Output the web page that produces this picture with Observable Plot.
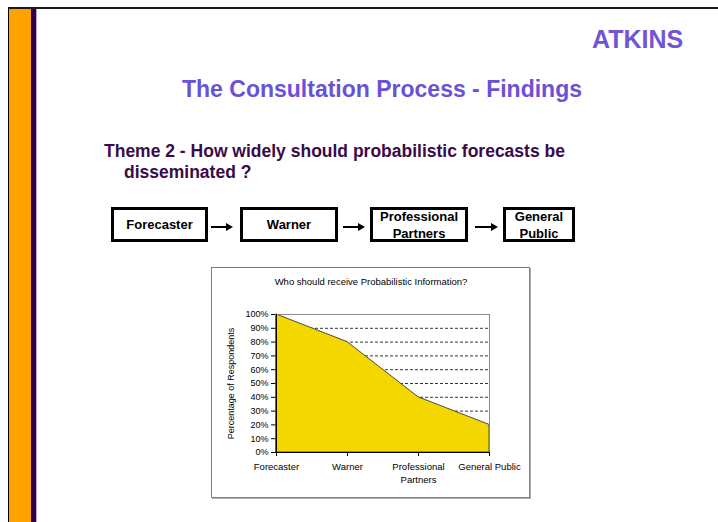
<!DOCTYPE html>
<html><head><meta charset="utf-8">
<script src="https://cdn.jsdelivr.net/npm/d3@7"></script>
<script src="https://cdn.jsdelivr.net/npm/@observablehq/plot@0.6"></script>
<style>
body{margin:0;width:718px;height:522px;position:relative;overflow:hidden;background:#fff;font-family:"Liberation Sans",Arial,sans-serif;}
.abs{position:absolute;white-space:nowrap;line-height:1}
.box{position:absolute;box-sizing:border-box;border:3px solid #000;display:flex;align-items:center;justify-content:center;text-align:center;font-weight:bold;font-size:13px;line-height:17px;color:#000;background:#fff}
.line{position:absolute;height:2px;background:#000}
.head{position:absolute;width:0;height:0;border-left:7px solid #000;border-top:4px solid transparent;border-bottom:4px solid transparent}
</style></head><body>
<div class="abs" style="left:8px;top:7px;right:0;height:2px;background:#1a1a1a"></div>
<div class="abs" style="left:8px;top:7px;width:1px;bottom:0;background:#000"></div>
<div class="abs" style="left:9px;top:9px;width:22px;bottom:0;background:#FFA200"></div>
<div class="abs" style="left:31px;top:9px;width:5px;bottom:0;background:#330050"></div>
<div class="abs" style="left:36px;top:9px;width:1px;bottom:0;background:#b9a8c8"></div>

<div class="abs" style="left:592px;top:27px;font-size:25px;font-weight:bold;color:#7255D6">ATKINS</div>
<div class="abs" style="left:382px;top:77.5px;transform:translateX(-50%);font-size:23px;font-weight:bold;color:#6A52D6">The Consultation Process - Findings</div>
<div class="abs" style="left:104px;top:143px;font-size:17.5px;font-weight:bold;color:#3a0a4a">Theme 2 - How widely should probabilistic forecasts be</div>
<div class="abs" style="left:124px;top:164px;font-size:17.5px;font-weight:bold;color:#3a0a4a">disseminated ?</div>

<div id="flow"></div>

<div class="abs" style="left:211px;top:267px;width:319px;height:231px;box-sizing:border-box;border:1px solid #7f7f7f;box-shadow:1px 1px 0 #b0b0b0"></div>
<div class="abs" style="left:371px;top:276.5px;transform:translateX(-50%);font-size:9.5px;color:#000">Who should receive Probabilistic Information?</div>
<div id="chart" class="abs" style="left:211px;top:267px;line-height:normal"></div>

<script>
// Flow boxes (slide diagram)
const flowSteps = ["Forecaster", "Warner", "Professional<br>Partners", "General<br>Public"];

// Chart data
const categories = ["Forecaster", "Warner", "Professional Partners", "General Public"];
const values = [100, 80, 40, 20];
const xLabels = ["Forecaster", "Warner", "Professional\nPartners", "General Public"];
const yTicks = [0, 10, 20, 30, 40, 50, 60, 70, 80, 90, 100];
const gridValues = [10, 20, 30, 40, 50, 60, 70, 80, 90];

// diagram layout
const boxLayout = [[111, 97], [240, 98], [370, 98], [503, 72]];
const flow = document.getElementById("flow");
flowSteps.forEach((s, i) => {
  const d = document.createElement("div");
  d.className = "box";
  d.style.left = boxLayout[i][0] + "px";
  d.style.top = "207px";
  d.style.width = boxLayout[i][1] + "px";
  d.style.height = "35px";
  d.innerHTML = s;
  flow.appendChild(d);
});
const arrows = [[211, 233], [343, 365], [475, 498]];
arrows.forEach(([a, b]) => {
  const l = document.createElement("div");
  l.className = "line";
  l.style.left = a + "px"; l.style.top = "226px"; l.style.width = (b - a - 7) + "px";
  flow.appendChild(l);
  const h = document.createElement("div");
  h.className = "head";
  h.style.left = (b - 7) + "px"; h.style.top = "223px";
  flow.appendChild(h);
});

const data = categories.map((c, i) => ({category: c, value: values[i]}));

const chart = Plot.plot({
  width: 319,
  height: 231,
  marginLeft: 64,
  marginRight: 40,
  marginTop: 47,
  marginBottom: 46,
  style: {fontFamily: "'Liberation Sans', Arial, sans-serif", fontSize: "9.5px", color: "#000", background: "transparent", overflow: "visible"},
  x: {type: "point", domain: categories, padding: 0},
  y: {domain: [0, 100]},
  marks: [
    Plot.ruleY(gridValues, {stroke: "#000", strokeDasharray: "3,2", strokeWidth: 0.8}),
    Plot.areaY(data, {x: "category", y: "value", fill: "#F5D700", stroke: "#3a3a3a", strokeWidth: 0.9}),
    Plot.ruleY([100], {stroke: "#8a8a8a", strokeWidth: 1}),
    Plot.ruleX([categories[categories.length - 1]], {stroke: "#8a8a8a", strokeWidth: 1}),
    Plot.ruleX([categories[0]], {stroke: "#000", strokeWidth: 1}),
    Plot.ruleY([0], {stroke: "#000", strokeWidth: 1}),
    Plot.axisY({ticks: yTicks, tickFormat: d => d + "%", tickSize: 4, tickPadding: 3, fontSize: 9,
      label: "Percentage of Respondents", labelAnchor: "center", labelOffset: 48, labelArrow: "none"}),
    Plot.axisX({tickFormat: d => xLabels[categories.indexOf(d)], tickSize: 4, tickPadding: 4,
      label: null, lineHeight: 1.4, fontSize: 9.5})
  ]
});
document.getElementById("chart").appendChild(chart);
</script>
</body></html>
